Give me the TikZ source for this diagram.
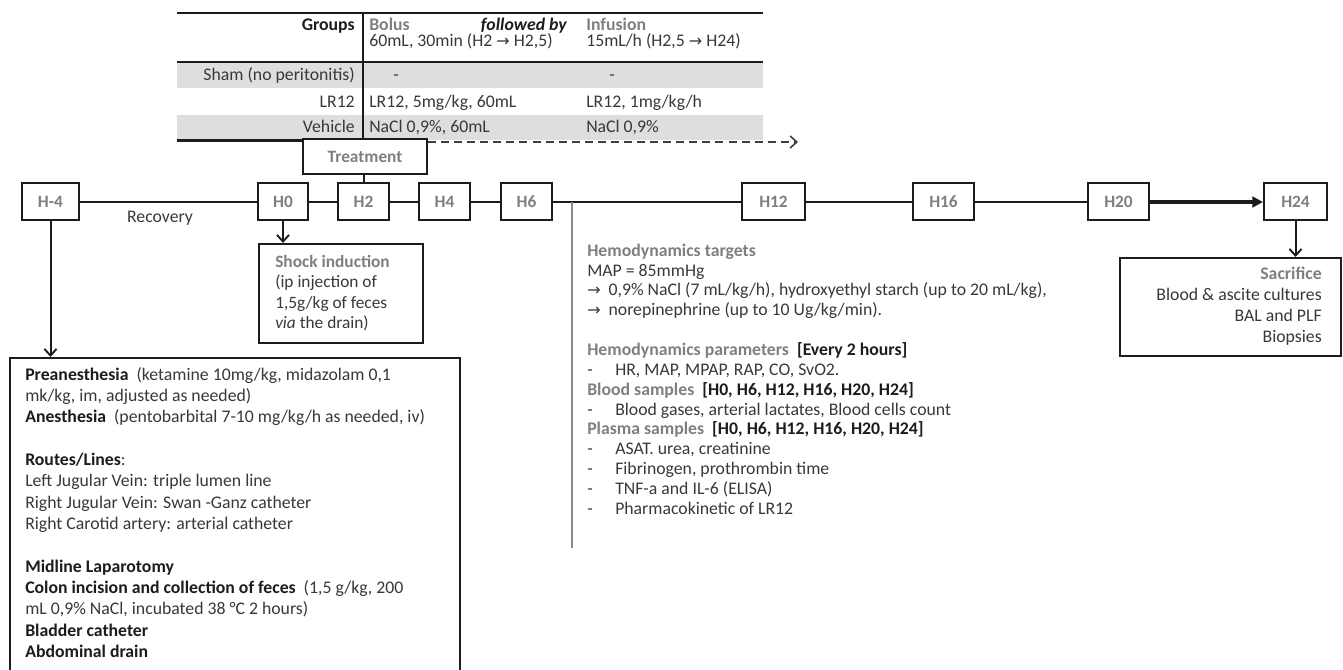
\documentclass[tikz,border=0pt]{standalone}
\usepackage{fontspec}
\setmainfont{Carlito}
\newfontfamily\symf{DejaVu Sans}[Scale=0.9]
\usetikzlibrary{arrows.meta}
\definecolor{hd}{HTML}{7F7F7F}
\definecolor{tx}{HTML}{383838}
\definecolor{bk}{HTML}{1C1C1C}
\definecolor{band}{HTML}{DEDEDE}
\definecolor{vline}{HTML}{8A8A8A}
\newcommand{\pxu}{0.75pt}
\newcommand{\rarr}{{\symf →}}
\newcommand{\hdg}[1]{{\bfseries\color{hd}#1}}
\newcommand{\blk}[1]{{\bfseries\color{bk}#1}}
\newcommand{\dsh}{\makebox[21pt][l]{-}}
\newcommand{\arrl}{\makebox[16pt][l]{\rarr}}
\begin{document}
\begin{tikzpicture}[x=0.75pt,y=-0.75pt,
  hbox/.style={draw=bk, line width=1.5pt, minimum height=37*\pxu, inner sep=0pt,
    font=\fontsize{13}{15}\selectfont\bfseries, text=hd, fill=white},
  frame/.style={draw=bk, line width=1.5pt, inner sep=0pt, fill=white},
  conn/.style={draw=bk, line width=1.5pt},
  oarr/.style={conn, -{Straight Barb[length=5pt,width=9pt,line width=1.4pt]}},
  farr/.style={draw=bk, line width=2.3pt, -{Triangle[length=8pt,width=8pt]}},
  darr/.style={draw=bk!85, line width=1.1pt, dash pattern=on 6pt off 3.8pt,
    -{Straight Barb[length=5pt,width=9pt,line width=1.2pt,sep=0pt]}},
  rule/.style={draw=bk, line width=2pt},
  tbl/.style={font=\fontsize{13.3}{15}\selectfont, text=tx, inner sep=0pt},
  tblb/.style={tbl, font=\fontsize{13.3}{15}\selectfont\bfseries},
  body/.style={inner sep=0pt, align=left, text=tx}
]
\useasboundingbox (0,0) rectangle (1343,670);
\clip (0,0) rectangle (1343,670);

% ---------- table ----------
\fill[band] (177,62) rectangle (763,88);
\fill[band] (177,115) rectangle (763,140);
\draw[rule] (177,13) -- (763,13);
\draw[rule] (177,62) -- (763,62);
\draw[draw=bk, line width=2.2pt] (363,13) -- (363,139);

\node[tblb, anchor=base east, text=bk] (tgroups) at (355,31) {Groups};
\node[tblb, anchor=base west, text=hd] (tbolus) at (369,31) {Bolus};
\node[tbl, anchor=base east, font=\fontsize{13.3}{15}\selectfont\bfseries\itshape, text=bk] (tfollow) at (567,31) {followed by};
\node[tblb, anchor=base west, text=hd] (tinf) at (586,31) {Infusion};
\node[tbl, anchor=base west] (tbolus2) at (369,47) {60mL, 30min (H2 \rarr\ H2,5)};
\node[tbl, anchor=base west] (tinf2) at (586,47) {15mL/h (H2,5 \rarr\ H24)};

\node[tbl, anchor=base east] (tsham) at (355,81) {Sham (no peritonitis)};
\node[tbl, anchor=base west] (tshamb) at (393,81) {-};
\node[tbl, anchor=base west] (tshami) at (609,81) {-};
\node[tbl, anchor=base east] (tlr) at (355,108) {LR12};
\node[tbl, anchor=base west] (tlrb) at (369,108) {LR12, 5mg/kg, 60mL};
\node[tbl, anchor=base west] (tlri) at (586,108) {LR12, 1mg/kg/h};
\node[tbl, anchor=base east] (tveh) at (355,133) {Vehicle};
\node[tbl, anchor=base west] (tvehb) at (369,133) {NaCl 0,9\%, 60mL};
\node[tbl, anchor=base west] (tvehi) at (586,133) {NaCl 0,9\%};

% ---------- treatment ----------
\node[frame, minimum width=124*\pxu, minimum height=35*\pxu,
  font=\fontsize{13}{15}\selectfont\bfseries, text=hd] (treat) at (365,156.5) {Treatment};
\coordinate (tblL) at (177,140.5);
\draw[draw=bk, line width=1.8pt] (tblL) -- (tblL -| treat.west);
\coordinate (dashend) at (798,142);
\draw[darr] (dashend -| treat.east) -- (dashend);

% ---------- timeline ----------
\node[hbox, minimum width=57*\pxu] (hm4) at (50.5,202) {H-4};
\node[hbox, minimum width=50*\pxu] (h0) at (283,202) {H0};
\node[hbox, minimum width=51*\pxu] (h2) at (363.5,202) {H2};
\node[hbox, minimum width=51*\pxu] (h4) at (444.5,202) {H4};
\node[hbox, minimum width=51*\pxu] (h6) at (526.5,202) {H6};
\node[hbox, minimum width=63*\pxu] (h12) at (773.5,202) {H12};
\node[hbox, minimum width=61*\pxu] (h16) at (943.5,202) {H16};
\node[hbox, minimum width=61*\pxu] (h20) at (1118.5,202) {H20};
\node[hbox, minimum width=63*\pxu] (h24) at (1295.5,202) {H24};

\draw[conn] (hm4) -- (h0);
\draw[conn] (h0) -- (h2);
\draw[conn] (h2) -- (h4);
\draw[conn] (h4) -- (h6);
\draw[conn] (h6) -- (h12);
\draw[conn] (h12) -- (h16);
\draw[conn] (h16) -- (h20);
\draw[farr] (h20) -- (h24);
\draw[conn] (h2.north) -- (h2.north |- treat.south);

\node[inner sep=0pt, anchor=base, font=\fontsize{13.3}{15}\selectfont, text=tx] (recov) at (160,223) {Recovery};

% ---------- shock induction ----------
\node[frame, anchor=north west, minimum width=164*\pxu, minimum height=99*\pxu] (shock) at (258,243) {};
\node[body, anchor=north west, font=\fontsize{13}{15.4}\selectfont] (shocktxt) at (275,252.6)
  {\strut\hdg{Shock induction}\\(ip injection of\\1,5g/kg of feces\\\textit{via} the drain)};
\draw[oarr] (h0.south) -- (h0.south |- shock.north);

% ---------- preparation ----------
\node[frame, anchor=north west, minimum width=450*\pxu, minimum height=340*\pxu] (prep) at (9,357) {};
\node[body, anchor=north west, font=\fontsize{13.3}{16}\selectfont] (preptxt) at (25,365.1)
  {\strut\blk{Preanesthesia} \ (ketamine 10mg/kg, midazolam 0,1\\
   mk/kg, im, adjusted as needed)\\
   \blk{Anesthesia} \ (pentobarbital 7-10 mg/kg/h as needed, iv)\\
   \\
   \blk{Routes/Lines}:\\
   Left Jugular Vein: triple lumen line\\
   Right Jugular Vein: Swan -Ganz catheter\\
   Right Carotid artery: arterial catheter\\
   \\
   \blk{Midline Laparotomy}\\
   \blk{Colon incision and collection of feces} \ (1,5 g/kg, 200\\
   mL 0,9\% NaCl, incubated 38 °C 2 hours)\\
   \blk{Bladder catheter}\\
   \blk{Abdominal drain}};
\draw[oarr] (hm4.south) -- (hm4.south |- prep.north);

% ---------- monitoring ----------
\coordinate (br) at (572,202);
\coordinate (brend) at (572,548);
\draw[draw=vline, line width=1.8pt] (br) -- (brend);
\node[body, anchor=north west, font=\fontsize{13.3}{14.9}\selectfont] (montxt) at (587,242)
  {\strut\hdg{Hemodynamics targets}\\
   MAP = 85mmHg\\
   \arrl 0,9\% NaCl (7 mL/kg/h), hydroxyethyl starch (up to 20 mL/kg),\\
   \arrl norepinephrine (up to 10 Ug/kg/min).\\
   \\
   \hdg{Hemodynamics parameters} \ \blk{[Every 2 hours]}\\
   \dsh HR, MAP, MPAP, RAP, CO, SvO2.\\
   \hdg{Blood samples} \ \blk{[H0, H6, H12, H16, H20, H24]}\\
   \dsh Blood gases, arterial lactates, Blood cells count\\
   \hdg{Plasma samples} \ \blk{[H0, H6, H12, H16, H20, H24]}\\
   \dsh ASAT. urea, creatinine\\
   \dsh Fibrinogen, prothrombin time\\
   \dsh TNF-a and IL-6 (ELISA)\\
   \dsh Pharmacokinetic of LR12};

% ---------- sacrifice ----------
\node[frame, anchor=north west, minimum width=221*\pxu, minimum height=98*\pxu] (sacr) at (1119,257) {};
\node[body, align=right, anchor=north east, font=\fontsize{13.3}{15.75}\selectfont] (sacrtxt) at (1322,265)
  {\strut\hdg{Sacrifice}\\Blood \& ascite cultures\\BAL and PLF\\Biopsies};
\draw[oarr] (h24.south) -- (h24.south |- sacr.north);
\end{tikzpicture}
\end{document}
